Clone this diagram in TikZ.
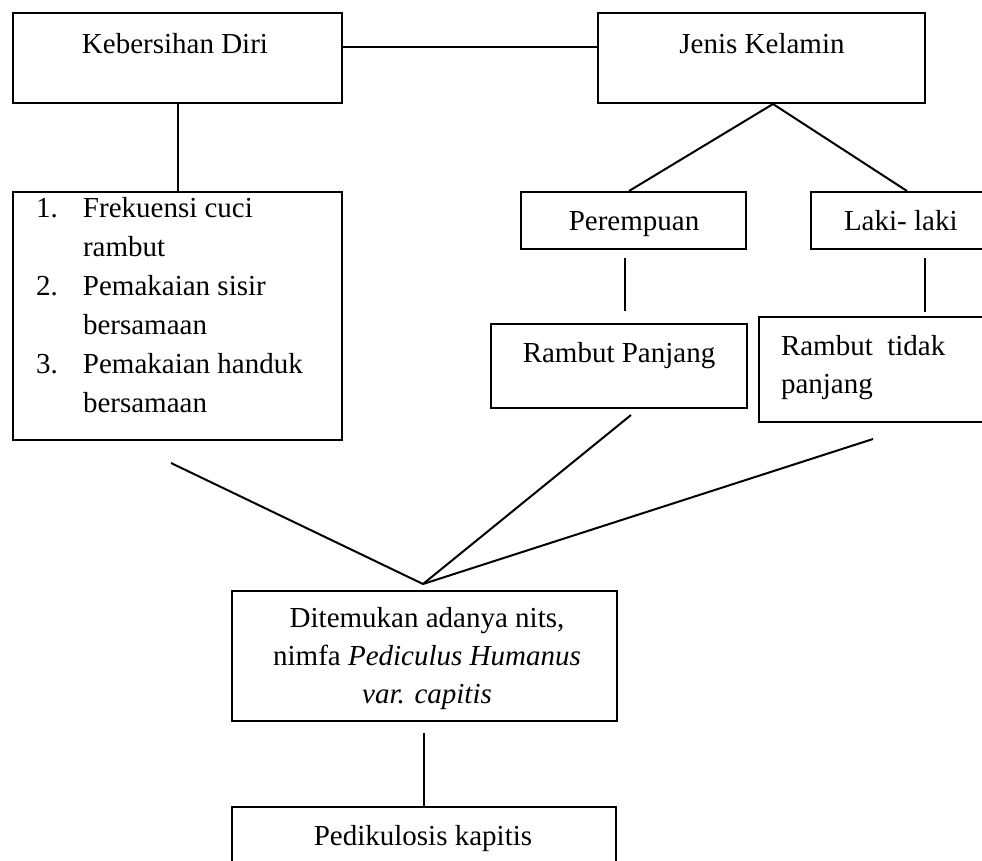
\documentclass[tikz,border=0pt]{standalone}
\usepackage{fontspec}
\setmainfont{Liberation Serif}

\begin{document}
\begin{tikzpicture}[x=1pt, y=-1pt, line width=2pt,
        every node/.style={font=\fontsize{29}{38}\selectfont},
        kotak/.style={draw, inner sep=0pt},
        teks/.style={inner sep=0pt}]
        \useasboundingbox (0,0) rectangle (982,860);
        \clip (0,0) rectangle (982,860);

        % kotak
        \node[kotak, minimum width=329pt, minimum height=90pt] (kebersihan) at (177.5,58) {};
        \node[kotak, minimum width=327pt, minimum height=90pt] (jenis) at (761.5,58) {};
        \node[kotak, minimum width=329pt, minimum height=248pt] (daftar) at (177.5,316) {};
        \node[kotak, minimum width=225pt, minimum height=57pt] (perempuan) at (633.5,220.5) {};
        \node[kotak, minimum width=228pt, minimum height=57pt] (laki) at (925,220.5) {};
        \node[kotak, minimum width=256pt, minimum height=84pt] (rpanjang) at (619,366) {};
        \node[kotak, minimum width=332pt, minimum height=105pt] (rtidak) at (925,369.5) {};
        \node[kotak, minimum width=385pt, minimum height=130pt] (temuan) at (424,656) {};
        \node[kotak, minimum width=384pt, minimum height=93pt] (pedikulosis) at (424,853.5) {};

        % teks
        \node[teks, anchor=base] (kebersihan-t) at (175,53) {Kebersihan Diri};
        \node[teks, anchor=base] (jenis-t) at (762,53) {Jenis Kelamin};
        \node[teks, anchor=base west, font=\fontsize{29}{39}\selectfont] (daftar-t) at (35,217)
            {\begin{tabular}[t]{@{}p{47pt}@{}l@{}}1.&Frekuensi cuci\\&rambut\\2.&Pemakaian sisir\\&bersamaan\\3.&Pemakaian handuk\\&bersamaan\end{tabular}};
        \node[teks, anchor=base] (perempuan-t) at (634,230) {Perempuan};
        \node[teks, anchor=base west] (laki-t) at (843,230) {Laki- laki};
        \node[teks, anchor=base] (rpanjang-t) at (619,362) {Rambut Panjang};
        \node[teks, anchor=base west] (rtidak-t) at (780,355)
            {\begin{tabular}[t]{@{}l@{}}Rambut\ \ tidak\\panjang\end{tabular}};
        \node[teks, anchor=base] (temuan-t) at (427,627)
            {\begin{tabular}[t]{@{}c@{}}Ditemukan adanya nits,\\nimfa \textit{Pediculus Humanus}\\\textit{var. capitis}\end{tabular}};
        \node[teks, anchor=base] (pedikulosis-t) at (423,845) {Pedikulosis kapitis};

        % garis
        \draw ([yshift=11pt]kebersihan.east) -- ([yshift=11pt]jenis.west);
        \draw (kebersihan.south) -- (daftar.north);
        \draw ([xshift=11.5pt]jenis.south) -- ([xshift=-4.5pt]perempuan.north);
        \draw ([xshift=11.5pt]jenis.south) -- ([xshift=-18pt]laki.north);
        \draw[shorten <=8pt, shorten >=12pt] ([xshift=-8.5pt]perempuan.south) -- ([xshift=6pt]rpanjang.north);
        \draw[shorten <=8pt, shorten >=4pt] (laki.south) -- (rtidak.north);

        \coordinate (simpul) at ([xshift=-1pt, yshift=6pt]temuan.north);
        \draw ([xshift=-6.5pt, yshift=-22pt]daftar.south) -- (simpul);
        \draw ([xshift=12pt, yshift=-6pt]rpanjang.south) -- (simpul);
        \draw ([xshift=-52pt, yshift=-16pt]rtidak.south) -- (simpul);
        \draw[shorten <=11pt] (temuan.south) -- (pedikulosis.north);
    \end{tikzpicture}
\end{document}
